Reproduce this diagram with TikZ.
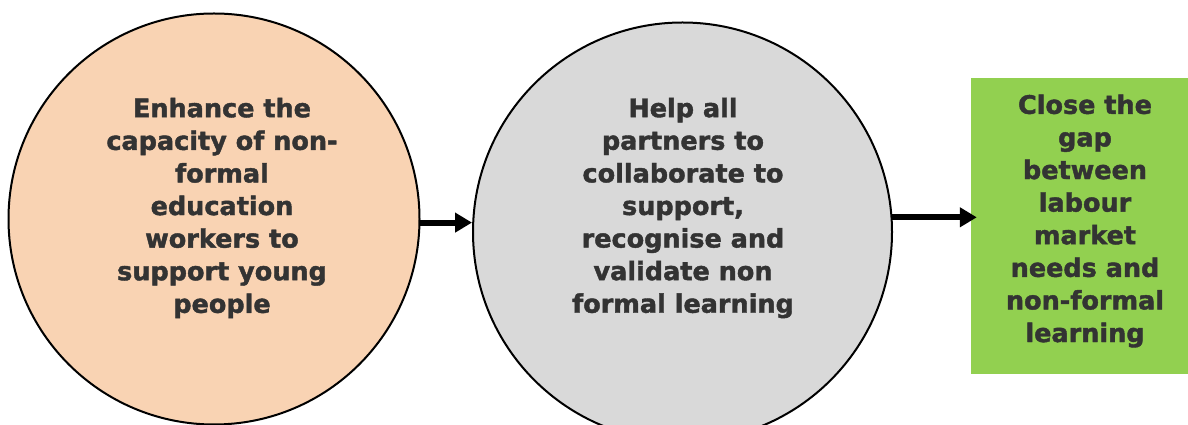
\documentclass[tikz,border=0pt]{standalone}
\usepackage{fontspec}
\setmainfont{DejaVu Sans}
\newfontfamily\heavyfont[FakeBold=1.6]{DejaVu Sans Bold}
\usetikzlibrary{arrows.meta}
\definecolor{peach}{HTML}{F9D3B3}
\definecolor{lightgray}{HTML}{D9D9D9}
\definecolor{leaf}{HTML}{92D050}
\definecolor{ink}{HTML}{333333}
\begin{document}
\begin{tikzpicture}[x=1pt,y=1pt,
  stage/.style={circle,draw=black,line width=2pt,inner sep=0pt},
  label/.style={align=center,text=ink,inner sep=0pt,
    font=\fontsize{25.5}{32.6}\selectfont\heavyfont},
  flow/.style={line width=6pt,-{Triangle[length=17pt,width=19pt]}}]
  \useasboundingbox (0,0) rectangle (1188,425);
  \clip (0,0) rectangle (1188,425);
  % the two stages and the goal box
  \node[stage,fill=peach,minimum size=411pt] (c1) at (214,206) {};
  \node[stage,fill=lightgray,minimum size=419pt] (c2) at (682.5,193) {};
  \node[fill=leaf,minimum width=217pt,minimum height=296pt,inner sep=0pt] (g) at (1079.5,199) {};
  % texts
  \node[label] (t1) at (222,217) {Enhance the\\capacity of non-\\formal\\education\\workers to\\support young\\people};
  \node[label] (t2) at (683,217) {Help all\\partners to\\collaborate to\\support,\\recognise and\\validate non\\formal learning};
  \node[label] (t3) at (1085,204) {Close the\\gap\\between\\labour\\market\\needs and\\non-formal\\learning};
  % connectors
  \draw[flow] (c1.-1.4) -- (c1.-1.4 -| c2.west);
  \draw[flow,shorten >=-6pt] (c2.4.9) -- (c2.4.9 -| g.west);
\end{tikzpicture}
\end{document}
